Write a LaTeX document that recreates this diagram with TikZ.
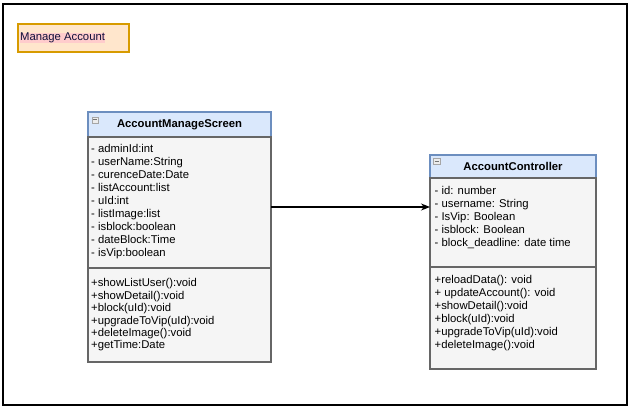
\documentclass[tikz,border=0pt]{standalone}
\usepackage{fontspec}
\setmainfont{Liberation Sans}
\usepackage{tikz}
\usetikzlibrary{positioning, arrows.meta, calc}
\definecolor{headfill}{HTML}{DAE8FC}
\definecolor{headline}{HTML}{6C8EBF}
\definecolor{bodyfill}{HTML}{F5F5F5}
\definecolor{bodyline}{HTML}{666666}
\definecolor{notefill}{HTML}{FFE6CC}
\definecolor{noteline}{HTML}{D79B00}
\definecolor{markfill}{HTML}{FFCCCC}
\definecolor{notetext}{HTML}{10103A}
\tikzset{
  clshead/.style={draw=headline, fill=headfill, line width=1.2pt, inner sep=0pt, outer sep=0pt,
    font=\fontsize{11.3}{13}\selectfont\bfseries},
  clsbody/.style={draw=bodyline, fill=bodyfill, line width=1.2pt, inner sep=0pt, outer sep=0pt},
  members/.style={inner sep=0pt, align=left, anchor=north west, font=\fontsize{11.3}{13}\selectfont},
  togglebox/.style={draw=gray!70, fill=gray!15, line width=0.6pt, minimum width=6.5pt,
    minimum height=6pt, inner sep=0pt, anchor=north west},
  toggleminus/.style={draw=gray!90!black, line width=0.8pt},
  notebox/.style={draw=noteline, fill=notefill, line width=1.2pt, minimum width=111pt,
    minimum height=28pt, inner sep=0pt, outer sep=0pt, anchor=north west},
  conn/.style={line width=1.2pt, -{Stealth[length=9pt, width=7pt]}}
}
\begin{document}
\begin{tikzpicture}[x=1pt, y=-1pt]
\useasboundingbox (0,0) rectangle (632,407);
\draw[line width=1.3pt] (3,4) rectangle (627,405);
%note
\node[notebox] (note) at (18,24) {};
\node[anchor=west, fill=markfill, inner sep=0pt, text=notetext, font=\fontsize{11.3}{13}\selectfont]
  (note-text) at ([xshift=2pt]note.west) {Manage Account};
%AccountManageScreen
\node[clshead, minimum width=183pt, minimum height=25pt, anchor=north west] (ams-head) at (88,112) {AccountManageScreen};
\node[clsbody, minimum width=183pt, minimum height=131pt, below=0pt of ams-head] (ams-attr) {};
\node[clsbody, minimum width=183pt, minimum height=94pt, below=0pt of ams-attr] (ams-ops) {};
\node[togglebox] (ams-tog) at ([xshift=3.5pt, yshift=-4.5pt]ams-head.north west) {};
\draw[toggleminus] ([xshift=1.5pt]ams-tog.west) -- ([xshift=-1.5pt]ams-tog.east);
\node[members] (ams-fields) at ([xshift=3pt, yshift=-7pt]ams-attr.north west)
  {- adminId:int\\- userName:String\\- curenceDate:Date\\- listAccount:list\\- uId:int\\
   - listImage:list\\- isblock:boolean\\- dateBlock:Time\\- isVip:boolean};
\node[members, font=\fontsize{11.3}{12.4}\selectfont] (ams-methods) at ([xshift=3pt, yshift=-10.5pt]ams-ops.north west)
  {+showListUser():void\\+showDetail():void\\+block(uId):void\\+upgradeToVip(uId):void\\
   +deleteImage():void\\+getTime:Date};
%AccountController
\node[clshead, minimum width=166pt, minimum height=23pt, anchor=north west] (ctl-head) at (430,155) {AccountController};
\node[clsbody, minimum width=166pt, minimum height=89pt, below=0pt of ctl-head] (ctl-attr) {};
\node[clsbody, minimum width=166pt, minimum height=102pt, below=0pt of ctl-attr] (ctl-ops) {};
\node[togglebox] (ctl-tog) at ([xshift=3pt, yshift=-3pt]ctl-head.north west) {};
\draw[toggleminus] ([xshift=1.5pt]ctl-tog.west) -- ([xshift=-1.5pt]ctl-tog.east);
\node[members] (ctl-fields) at ([xshift=4.5pt, yshift=-8pt]ctl-attr.north west)
  {- id: number\\- username: String\\- IsVip: Boolean\\- isblock: Boolean\\- block\_deadline: date time};
\node[members] (ctl-methods) at ([xshift=4.5pt, yshift=-8pt]ctl-ops.north west)
  {+reloadData(): void\\+ updateAccount(): void\\+showDetail():void\\+block(uId):void\\
   +upgradeToVip(uId):void\\+deleteImage():void};
%link
\coordinate (link-start) at ([yshift=-4.5pt]ams-attr.east);
\draw[conn] (link-start) -- (link-start -| ctl-attr.west);
\end{tikzpicture}
\end{document}
